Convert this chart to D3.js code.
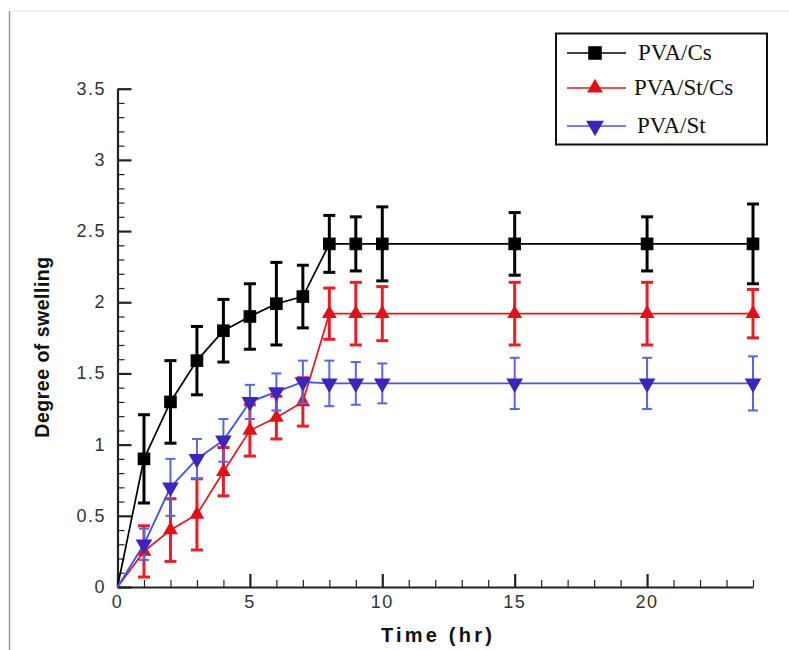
<!DOCTYPE html>
<html>
<head>
<meta charset="utf-8">
<script src="https://cdn.jsdelivr.net/npm/d3@7"></script>
<style>
  html, body { margin: 0; padding: 0; background: #fff; }
  svg { display: block; }
</style>
</head>
<body>
<svg id="chart" width="789" height="650"></svg>
<script>
// ---- data ----
const time = [0, 1, 2, 3, 4, 5, 6, 7, 8, 9, 10, 15, 20, 24];
const pvaCs = [0, 0.9, 1.3, 1.59, 1.8, 1.9, 1.99, 2.04, 2.41, 2.41, 2.41, 2.41, 2.41, 2.41];
const pvaCsErr = [0, 0.31, 0.29, 0.24, 0.22, 0.23, 0.29, 0.22, 0.2, 0.19, 0.26, 0.22, 0.19, 0.28];
const pvaStCs = [0, 0.25, 0.4, 0.51, 0.81, 1.1, 1.19, 1.3, 1.92, 1.92, 1.92, 1.92, 1.92, 1.92];
const pvaStCsErr = [0, 0.18, 0.22, 0.25, 0.17, 0.18, 0.15, 0.17, 0.18, 0.22, 0.19, 0.22, 0.22, 0.17];
const pvaSt = [0, 0.3, 0.7, 0.9, 1.03, 1.3, 1.37, 1.44, 1.43, 1.43, 1.43, 1.43, 1.43, 1.43];
const pvaStErr = [0, 0.11, 0.2, 0.14, 0.15, 0.12, 0.13, 0.15, 0.16, 0.15, 0.14, 0.18, 0.18, 0.19];
const seriesNames = ["PVA/Cs", "PVA/St/Cs", "PVA/St"];
const xTicks = [0, 5, 10, 15, 20];
const yTicks = [0, 0.5, 1, 1.5, 2, 2.5, 3, 3.5];

// ---- styling ----
const styles = [
  { line: "#000", err: "#000", fill: "#000", lw: 1.7, ew: 3, cap: 12, sym: d3.symbolSquare, size: 160, rot: 0 },
  { line: "#e8141c", err: "#ee1c24", fill: "#e3101a", lw: 1.7, ew: 3, cap: 12, sym: d3.symbolTriangle, size: 95, rot: 0 },
  { line: "#4456e6", err: "#5566e6", fill: "#3d24bc", lw: 1.9, ew: 2, cap: 10, sym: d3.symbolTriangle, size: 120, rot: 180 }
];
const values = [pvaCs, pvaStCs, pvaSt];
const errors = [pvaCsErr, pvaStCsErr, pvaStErr];

const svg = d3.select("#chart");
const x = d3.scaleLinear().domain([0, 24]).range([117.5, 753]);
const y = d3.scaleLinear().domain([0, 3.5]).range([587, 88.7]);

// page frame
svg.append("line").attr("x1", 9).attr("x2", 789).attr("y1", 11).attr("y2", 11)
  .attr("stroke", "#e4e4e4").attr("stroke-width", 1);
svg.append("line").attr("x1", 9.5).attr("x2", 9.5).attr("y1", 11).attr("y2", 650)
  .attr("stroke", "#9a9a9a").attr("stroke-width", 1.5);

// axes
const axisCol = "#222";
const xAxis = d3.axisTop(x).tickValues(d3.range(0, 25, 1)).tickFormat("")
  .tickSizeInner(0).tickSizeOuter(0);
const gx = svg.append("g").attr("transform", `translate(0,${y(0)})`);
gx.call(xAxis);
gx.select(".domain").attr("stroke", axisCol).attr("stroke-width", 2.2);
gx.selectAll(".tick line")
  .attr("y2", d => (d % 5 === 0 ? -13 : -7))
  .attr("stroke", axisCol)
  .attr("stroke-width", d => (d % 5 === 0 ? 2.2 : 1.2));
gx.selectAll(".tick text").remove();
svg.append("g").selectAll("text").data(xTicks).join("text")
  .attr("x", d => x(d)).attr("y", y(0) + 21)
  .attr("text-anchor", "middle")
  .attr("font-family", "Liberation Sans, Arial, sans-serif")
  .attr("font-size", 18).attr("letter-spacing", 1.5)
  .attr("fill", "#333")
  .text(d => d);

const yAxis = d3.axisRight(y).tickValues(d3.range(0, 36, 1).map(d => d / 10)).tickFormat("")
  .tickSizeInner(0).tickSizeOuter(0);
const gy = svg.append("g").attr("transform", `translate(${x(0)},0)`);
gy.call(yAxis);
gy.select(".domain").attr("stroke", axisCol).attr("stroke-width", 2.2);
gy.selectAll(".tick line")
  .attr("x2", (d, i) => (i % 5 === 0 ? 14 : 7))
  .attr("stroke", axisCol)
  .attr("stroke-width", (d, i) => (i % 5 === 0 ? 2.2 : 1.2));
svg.append("g").selectAll("text").data(yTicks).join("text")
  .attr("x", 106).attr("y", d => y(d) + 6)
  .attr("text-anchor", "end")
  .attr("font-family", "Liberation Sans, Arial, sans-serif")
  .attr("font-size", 18).attr("letter-spacing", 1.5)
  .attr("fill", "#333")
  .text(d => String(d));

// axis titles
svg.append("text")
  .attr("x", 438).attr("y", 642)
  .attr("text-anchor", "middle")
  .attr("font-family", "Liberation Sans, Arial, sans-serif")
  .attr("font-weight", "bold").attr("font-size", 20).attr("letter-spacing", 3.2)
  .attr("fill", "#111")
  .text("Time (hr)");
svg.append("text")
  .attr("transform", "translate(49,347) rotate(-90)")
  .attr("text-anchor", "middle")
  .attr("font-family", "Liberation Sans, Arial, sans-serif")
  .attr("font-weight", "bold").attr("font-size", 19.5).attr("letter-spacing", 0.5)
  .attr("fill", "#111")
  .text("Degree of swelling");

// series
const line = d3.line().x(d => x(d[0])).y(d => y(d[1]));
values.forEach((vals, s) => {
  const st = styles[s];
  const pts = time.map((t, i) => [t, vals[i], errors[s][i]]);
  const g = svg.append("g");
  g.append("path").datum(pts).attr("d", line)
    .attr("fill", "none").attr("stroke", st.line).attr("stroke-width", st.lw);
  const marked = pts.filter(p => p[0] > 0);
  const eb = g.append("g").attr("stroke", st.err).attr("stroke-width", st.ew);
  eb.selectAll("line.v").data(marked).join("line")
    .attr("x1", d => x(d[0])).attr("x2", d => x(d[0]))
    .attr("y1", d => y(d[1] - d[2])).attr("y2", d => y(d[1] + d[2]));
  eb.selectAll("line.t").data(marked).join("line")
    .attr("x1", d => x(d[0]) - st.cap / 2).attr("x2", d => x(d[0]) + st.cap / 2)
    .attr("y1", d => y(d[1] + d[2])).attr("y2", d => y(d[1] + d[2]));
  eb.selectAll("line.b").data(marked).join("line")
    .attr("x1", d => x(d[0]) - st.cap / 2).attr("x2", d => x(d[0]) + st.cap / 2)
    .attr("y1", d => y(d[1] - d[2])).attr("y2", d => y(d[1] - d[2]));
  g.selectAll("path.m").data(marked).join("path")
    .attr("d", d3.symbol().type(st.sym).size(st.size))
    .attr("transform", d => `translate(${x(d[0])},${y(d[1])}) rotate(${st.rot})`)
    .attr("fill", st.fill);
});

// legend
const lg = svg.append("g");
lg.append("rect").attr("x", 556).attr("y", 33.5).attr("width", 211).attr("height", 111)
  .attr("fill", "#fff").attr("stroke", "#111").attr("stroke-width", 2);
const rowsY = [53, 88, 126];
const textX = [638, 634, 637];
seriesNames.forEach((name, s) => {
  const st = styles[s];
  lg.append("line").attr("x1", 567).attr("x2", 626).attr("y1", rowsY[s]).attr("y2", rowsY[s])
    .attr("stroke", st.line).attr("stroke-width", 1.6);
  lg.append("path")
    .attr("d", d3.symbol().type(st.sym).size(st.size * 1.15))
    .attr("transform", `translate(595,${rowsY[s]}) rotate(${st.rot})`)
    .attr("fill", st.fill);
  lg.append("text").attr("x", textX[s]).attr("y", rowsY[s] + 7)
    .attr("font-family", "Liberation Serif, Times New Roman, serif")
    .attr("font-size", 23).attr("fill", "#111")
    .text(name);
});
</script>
</body>
</html>
